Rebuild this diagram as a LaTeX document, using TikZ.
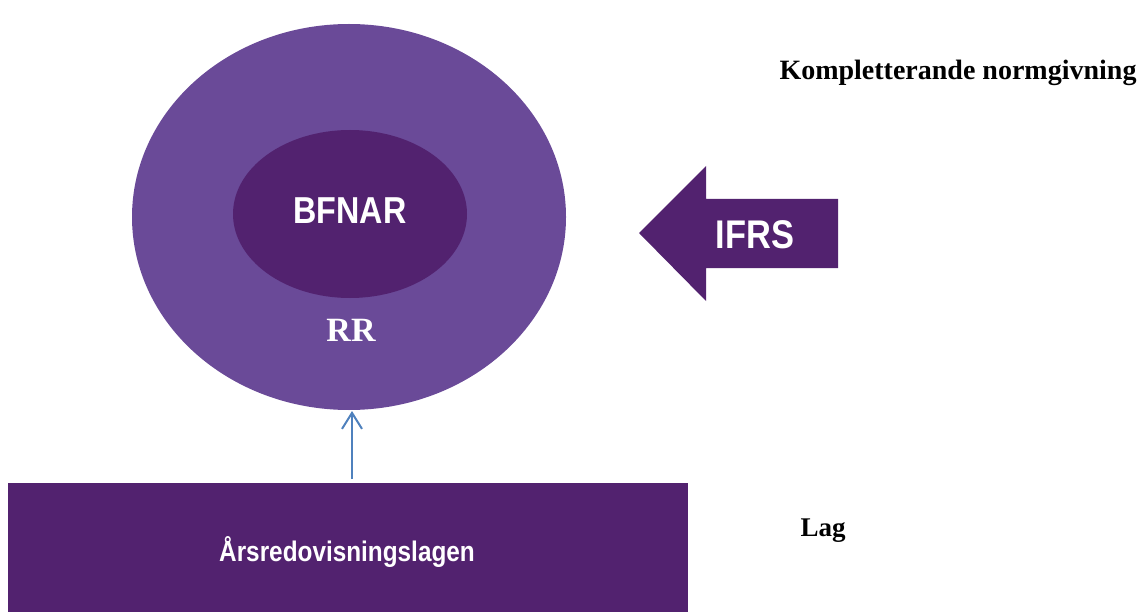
\documentclass[tikz,border=0pt]{standalone}
\usepackage{fontspec}
\setmainfont{Liberation Serif}
\newfontfamily\condsans[FakeStretch=0.86]{Liberation Sans}
\usetikzlibrary{arrows.meta}
\definecolor{outerpurple}{HTML}{6A4A98}
\definecolor{darkpurple}{HTML}{52226F}
\definecolor{arrowblue}{HTML}{4F81BD}
\tikzset{
  sanslabel/.style={text=white, font=\condsans\bfseries, inner sep=0pt},
  seriflabel/.style={font=\bfseries, inner sep=0pt},
}
\begin{document}
\begin{tikzpicture}[x=1pt,y=-1pt]
\useasboundingbox (0,0) rectangle (1139,612);
% outer ellipse
\fill[outerpurple] (349,217) ellipse [x radius=217, y radius=193];
\node[coordinate] (outerbottom) at (352,411) {};
% inner ellipse
\fill[darkpurple] (350,214) ellipse [x radius=117, y radius=84];
\node[sanslabel, font=\condsans\bfseries\fontsize{37.5}{40}\selectfont] (bfnar) at (350,211) {BFNAR};
\node[seriflabel, text=white, font=\bfseries\fontsize{34}{36}\selectfont] (rr) at (351,330) {RR};
% rectangle
\node[fill=darkpurple, minimum width=680, minimum height=140, inner sep=0pt, anchor=north west] (lagbox) at (8,483) {};
\node[sanslabel, font=\condsans\bfseries\fontsize{28.3}{30}\selectfont] (arl) at (347,552) {Årsredovisningslagen};
% blue arrow
\draw[arrowblue, line width=2pt, -{Straight Barb[length=16pt, width=20pt, line width=2pt]}] (352,479) -- (outerbottom);
% IFRS arrow
\fill[darkpurple] (639,233) -- (706,166) -- (706,199) -- (838,199) -- (838,268) -- (706,268) -- (706,301) -- cycle;
\node[sanslabel, font=\condsans\bfseries\fontsize{40}{42}\selectfont] (ifrs) at (755,235) {IFRS};
% side labels
\node[seriflabel, font=\bfseries\fontsize{28}{30}\selectfont] (komp) at (958,73) {Kompletterande normgivning};
\node[seriflabel, font=\bfseries\fontsize{27}{29}\selectfont] (lag) at (823,531) {Lag};
\end{tikzpicture}
\end{document}
